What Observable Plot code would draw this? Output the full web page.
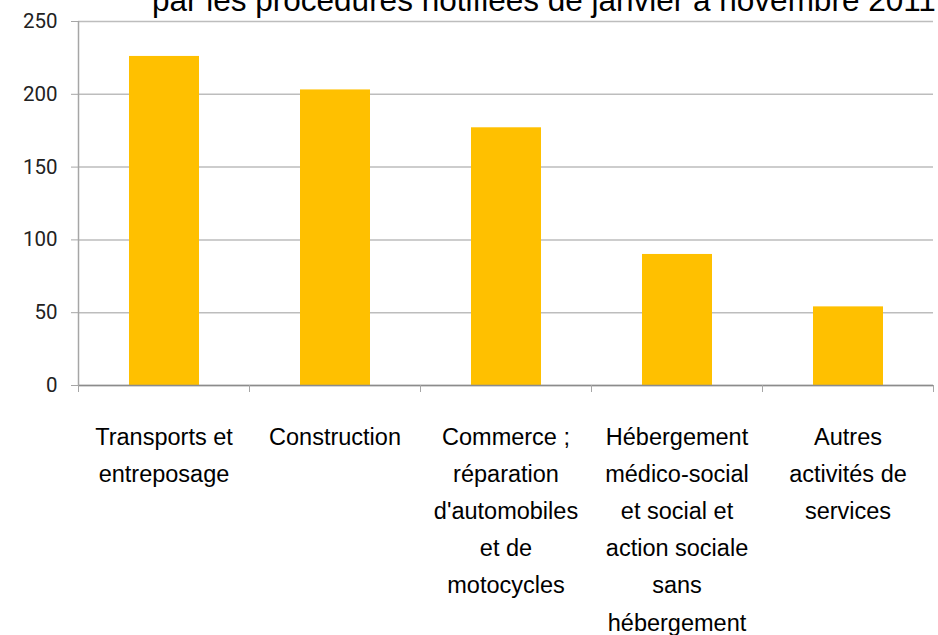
<!DOCTYPE html>
<html><head><meta charset="utf-8">
<script src="https://cdn.jsdelivr.net/npm/d3@7"></script>
<script src="https://cdn.jsdelivr.net/npm/@observablehq/plot@0.6"></script>
<style>
body{margin:0;background:#fff;}
#wrap{position:relative;width:938px;height:635px;overflow:hidden;}
#title{position:absolute;left:152px;top:-15px;font-size:31.5px;line-height:31px;font-family:"Liberation Sans",Arial,sans-serif;white-space:nowrap;color:#000;}
#chart{position:absolute;left:0;top:0;}
</style>
</head><body>
<div id="wrap"><div id="chart"></div><div id="title"></div></div>
<script>
const titleText = "par les procédures notifiées de janvier à novembre 2011";
const categories = ["Transports et entreposage","Construction","Commerce ; réparation d'automobiles et de motocycles","Hébergement médico-social et social et action sociale sans hébergement","Autres activités de services"];
const values = [226, 203, 177, 90, 54];
const labels = ["Transports et\nentreposage","Construction","Commerce ;\nréparation\nd'automobiles\net de\nmotocycles","Hébergement\nmédico-social\net social et\naction sociale\nsans\nhébergement","Autres\nactivités de\nservices"];
const yTicks = [0, 50, 100, 150, 200, 250];
const xBounds = [0, 1, 2, 3, 4, 5];

document.getElementById("title").textContent = titleText;

const data = categories.map((c, i) => ({cat: c, i0: i, i1: i + 1, mid: i + 0.5, value: values[i], label: labels[i]}));

const chart = Plot.plot({
  width: 938,
  height: 635,
  marginLeft: 78,
  marginRight: 5,
  marginTop: 21,
  marginBottom: 250,
  style: {fontFamily: "Roboto, sans-serif", background: "#fff", color: "#000"},
  x: {domain: [0, 5], axis: null},
  y: {domain: [0, 250], axis: null},
  marks: [
    Plot.gridY(yTicks, {stroke: "#bdbdbd", strokeOpacity: 1, strokeWidth: 1.5}),
    Plot.rectY(data, {x1: "i0", x2: "i1", y: "value", fill: "#FFC000", insetLeft: 51, insetRight: 50}),
    Plot.ruleY([0], {stroke: "#8c8c8c", strokeWidth: 1.5}),
    Plot.ruleX([0], {stroke: "#a6a6a6", strokeWidth: 1.5}),
    Plot.axisY(yTicks, {label: null, tickSize: 7, tickPadding: 14, fontSize: 20.5, stroke: "#a6a6a6", fill: "#222"}),
    Plot.axisX(xBounds, {label: null, tickSize: 7, stroke: "#a6a6a6", tickFormat: () => ""}),
    Plot.text(data, {x: "mid", text: "label", frameAnchor: "bottom", lineAnchor: "top", dy: 33, lineHeight: 1.58, fontSize: 23.5, fontFamily: "'Liberation Sans',Arial,sans-serif", fill: "#000"})
  ]
});
document.getElementById("chart").appendChild(chart);
</script>
</body></html>
